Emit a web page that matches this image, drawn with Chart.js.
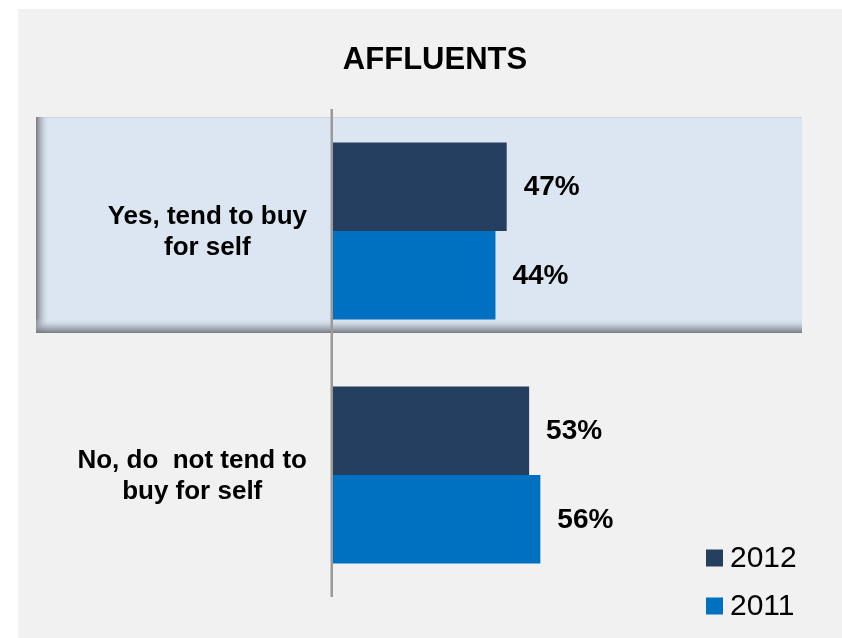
<!DOCTYPE html>
<html>
<head>
<meta charset="utf-8">
<script src="https://cdn.jsdelivr.net/npm/chart.js@4/dist/chart.umd.min.js"></script>
<style>
  html, body { margin: 0; padding: 0; background: #ffffff; }
  #wrap { position: absolute; left: 18px; top: 9px; width: 824px; height: 629px; background: #f1f1f1; }
  canvas { display: block; }
</style>
</head>
<body>
<div id="wrap"><canvas id="c" width="824" height="629"></canvas></div>
<script>
const chartTitle = "AFFLUENTS";
const categories = [["Yes, tend to buy", "for self"], ["No, do  not tend to", "buy for self"]];
const seriesNames = ["2012", "2011"];
const values2012 = [47, 53];
const values2011 = [44, 56];
const seriesColors = ["#243F60", "#0070C0"];

const FONT = '"Liberation Sans", Arial, sans-serif';

const bandPlugin = {
  id: 'band',
  beforeDatasetsDraw(chart) {
    const { ctx, chartArea: ca, scales: { y } } = chart;
    const cy = y.getPixelForValue(0);
    const left = ca.left - 295, right = ca.right, top = cy - 114, bottom = cy + 102;
    ctx.save();
    ctx.fillStyle = '#dce6f2';
    ctx.fillRect(left, top, right - left, bottom - top);
    ctx.fillStyle = '#cfd6df';
    ctx.fillRect(left, top, right - left, 1);
    let g = ctx.createLinearGradient(left, 0, left + 14, 0);
    g.addColorStop(0, 'rgba(118,121,127,1)');
    g.addColorStop(0.35, 'rgba(160,166,175,0.7)');
    g.addColorStop(1, 'rgba(220,230,242,0)');
    ctx.fillStyle = g;
    ctx.fillRect(left, top, 14, bottom - top);
    g = ctx.createLinearGradient(0, bottom - 15, 0, bottom);
    g.addColorStop(0, 'rgba(220,230,242,0)');
    g.addColorStop(0.6, 'rgba(160,166,175,0.7)');
    g.addColorStop(1, 'rgba(118,121,127,1)');
    ctx.fillStyle = g;
    ctx.fillRect(left, bottom - 15, right - left, 15);
    ctx.restore();
  }
};

const textPlugin = {
  id: 'texts',
  afterDatasetsDraw(chart) {
    const { ctx, chartArea: ca, scales: { x, y } } = chart;
    ctx.save();
    // title
    ctx.font = 'bold 31px ' + FONT;
    ctx.fillStyle = '#000';
    ctx.textAlign = 'center';
    ctx.textBaseline = 'middle';
    ctx.fillText(chartTitle, chart.width / 2 + 5, 51);

    // axis line
    const x0 = x.getPixelForValue(0);
    ctx.fillStyle = '#9a9a9a';
    ctx.fillRect(x0 - 0.5, ca.top, 2.5, ca.bottom - ca.top);

    // data labels
    ctx.font = 'bold 28px ' + FONT;
    ctx.fillStyle = '#000';
    ctx.textAlign = 'left';
    ctx.textBaseline = 'middle';
    chart.data.datasets.forEach((ds, di) => {
      const meta = chart.getDatasetMeta(di);
      meta.data.forEach((bar, i) => {
        ctx.fillText(ds.data[i] + '%', bar.x + 17, bar.y + 1);
      });
    });

    // category labels
    ctx.font = 'bold 26px ' + FONT;
    ctx.textAlign = 'center';
    const lh = 31;
    categories.forEach((lines, i) => {
      const cy = y.getPixelForValue(i);
      const maxW = Math.max(...lines.map(l => ctx.measureText(l).width));
      const cx = ca.left - 24 - maxW / 2;
      lines.forEach((l, k) => {
        ctx.fillText(l, cx, cy + 1 + (k - (lines.length - 1) / 2) * lh);
      });
    });

    // legend
    ctx.font = '30px ' + FONT;
    ctx.textAlign = 'left';
    seriesNames.forEach((name, i) => {
      const rowY = ca.bottom - 39 + i * 48;
      const sx = ca.right - 96;
      ctx.fillStyle = seriesColors[i];
      ctx.fillRect(sx, rowY - 8.5, 17, 17);
      ctx.fillStyle = '#000';
      ctx.fillText(name, sx + 24, rowY + 1);
    });
    ctx.restore();
  }
};

new Chart(document.getElementById('c'), {
  type: 'bar',
  data: {
    labels: categories,
    datasets: [
      { label: seriesNames[0], data: values2012, backgroundColor: seriesColors[0], borderWidth: 0 },
      { label: seriesNames[1], data: values2011, backgroundColor: seriesColors[1], borderWidth: 0 }
    ]
  },
  options: {
    indexAxis: 'y',
    responsive: false,
    animation: false,
    events: [],
    layout: { padding: { left: 313, right: 40, top: 100, bottom: 41 } },
    datasets: { bar: { categoryPercentage: 0.725, barPercentage: 1.0 } },
    scales: {
      x: { display: false, min: 0, max: 126 },
      y: { display: false }
    },
    plugins: {
      legend: { display: false },
      tooltip: { enabled: false },
      title: { display: false }
    }
  },
  plugins: [bandPlugin, textPlugin]
});
</script>
</body>
</html>
